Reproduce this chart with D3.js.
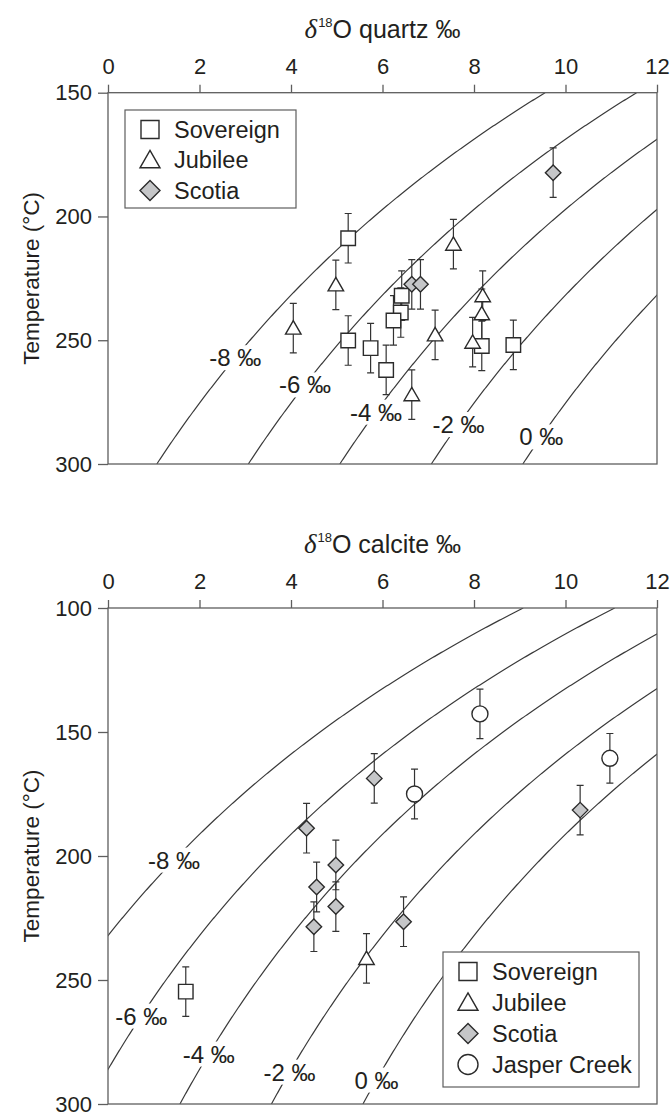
<!DOCTYPE html>
<html>
<head>
<meta charset="utf-8">
<script src="https://cdn.jsdelivr.net/npm/d3@7"></script>
<style>
  html, body { margin: 0; padding: 0; background: #fff; }
  svg { display: block; font-family: "Liberation Sans", Arial, Helvetica, sans-serif; }
</style>
</head>
<body>
<svg id="chart" width="670" height="1114"></svg>
<script>
// ---- axis ticks ----
const deltaTicks = [0, 2, 4, 6, 8, 10, 12];
const quartzTempTicks = [150, 200, 250, 300];
const calciteTempTicks = [100, 150, 200, 250, 300];

// ---- fluid δ18O isopleths (‰) and the temperature where each label sits ----
const fluidValues = [-8, -6, -4, -2, 0];
const quartzLabelTemps = [257, 268, 279, 284, 289];
const calciteLabelTemps = [201.6, 264.5, 279.8, 287.1, 290.3];

// mineral–water fractionation 1000 ln α = A·10^6 / T² + B  (T in kelvin)
const quartzFrac = { A: 3.34, B: -1.1 };
const calciteFrac = { A: 2.78, B: -2.89 };

// ---- measurements: [δ18O mineral ‰, temperature °C] ----
const sovereignQuartz = [[5.25, 208.8], [6.42, 232.0], [6.40, 238.8], [6.24, 242.0],
                         [5.25, 250.1], [5.74, 253.2], [6.08, 262.0], [8.17, 252.3], [8.86, 251.9]];
const jubileeQuartz = [[4.05, 245.1], [4.98, 227.6], [7.55, 211.2], [7.15, 247.8],
                       [6.64, 272.0], [8.19, 232.0], [8.17, 239.3], [7.97, 250.8]];
const scotiaQuartz = [[9.73, 182.3], [6.64, 227.4], [6.83, 227.4]];

const sovereignCalcite = [[1.70, 254.7]];
const jubileeCalcite = [[5.65, 241.3]];
const scotiaCalcite = [[5.82, 168.7], [4.34, 188.8], [10.32, 181.5], [4.98, 203.6],
                       [4.56, 212.5], [4.98, 220.4], [4.50, 228.5], [6.46, 226.5]];
const jasperCalcite = [[8.13, 142.7], [6.70, 175.0], [10.97, 160.6]];

// temperature uncertainty (± °C)
const tempError = 10;

// ---- styling ----
const INK = "#231f20";
const AXIS = "#5e5e5e";
const CURVE = "#3a3a3a";
const SCOTIA_FILL = "#c5c6c8";

const svg = d3.select("#chart");
const plotLeft = 108, plotRight = 657;
const x = d3.scaleLinear().domain([0, 12]).range([plotLeft, plotRight]);

// marker outlines centred on (0,0)
const shapes = {
  square: s => { const h = s / 2; return `M${-h},${-h}H${h}V${h}H${-h}Z`; },
  triangle: s => { const h = s * Math.sqrt(3) / 2; return `M0,${-h * 0.55}L${s / 2},${h * 0.45}L${-s / 2},${h * 0.45}Z`; },
  diamond: s => { const h = s / 2; return `M0,${-h}L${h},0L0,${h}L${-h},0Z`; },
  circle: s => { const r = s / 2; return `M${r},0A${r},${r} 0 1,1 ${-r},0A${r},${r} 0 1,1 ${r},0Z`; }
};
const markerSize = { square: 14.5, triangle: 15.5, diamond: 15.5, circle: 16 };
const legendSize = { square: 18, triangle: 20, diamond: 20, circle: 20 };

function drawPanel(cfg) {
  const g = svg.append("g");
  const y = d3.scaleLinear().domain(cfg.tempDomain).range([cfg.top, cfg.bottom]);
  const frac = T => cfg.frac.A * 1e6 / Math.pow(T + 273.15, 2) + cfg.frac.B;

  const clipId = cfg.id + "-clip";
  svg.append("clipPath").attr("id", clipId)
    .append("rect")
    .attr("x", plotLeft).attr("y", cfg.top)
    .attr("width", plotRight - plotLeft).attr("height", cfg.bottom - cfg.top);

  // isopleths
  const temps = d3.range(cfg.tempDomain[0], cfg.tempDomain[1] + 0.25, 0.5);
  const line = d3.line().x(d => x(d[0])).y(d => y(d[1]));
  const curves = g.append("g").attr("clip-path", `url(#${clipId})`);
  fluidValues.forEach(w => {
    curves.append("path")
      .attr("d", line(temps.map(T => [w + frac(T), T])))
      .attr("fill", "none").attr("stroke", CURVE).attr("stroke-width", 1.2);
  });

  // isopleth labels, knocked out of the curves
  const labels = g.append("g");
  fluidValues.forEach((w, i) => {
    const T = cfg.labelTemps[i];
    const lg = labels.append("g").attr("transform", `translate(${x(w + frac(T))},${y(T)})`);
    const bg = lg.append("rect").attr("fill", "#fff");
    const t = lg.append("text")
      .attr("text-anchor", "middle").attr("dy", "0.36em")
      .attr("font-size", 24).attr("fill", INK)
      .text(`${w} ‰`);
    const b = t.node().getBBox();
    bg.attr("x", b.x - 3).attr("y", b.y + 1).attr("width", b.width + 6).attr("height", b.height - 2);
  });

  // frame
  g.append("rect")
    .attr("x", plotLeft).attr("y", cfg.top)
    .attr("width", plotRight - plotLeft).attr("height", cfg.bottom - cfg.top)
    .attr("fill", "none").attr("stroke", AXIS).attr("stroke-width", 1.3);

  // top δ18O axis
  const xAxis = d3.axisTop(x).tickValues(deltaTicks).tickSize(8).tickPadding(11).tickFormat(d3.format("d"));
  const xa = g.append("g").attr("transform", `translate(0,${cfg.top})`).call(xAxis);
  // left temperature axis
  const yAxis = d3.axisLeft(y).tickValues(cfg.tempTicks).tickSize(10).tickPadding(6).tickFormat(d3.format("d"));
  const ya = g.append("g").attr("transform", `translate(${plotLeft},0)`).call(yAxis);
  [xa, ya].forEach(a => {
    a.attr("font-family", null).attr("font-size", null);
    a.select(".domain").remove();
    a.selectAll(".tick line").attr("stroke", AXIS).attr("stroke-width", 1.3);
    a.selectAll(".tick text").attr("fill", INK).style("font-size", "22px");
  });

  // axis titles
  const title = g.append("text")
    .attr("x", (plotLeft + plotRight) / 2).attr("y", cfg.top - 55)
    .attr("text-anchor", "middle").attr("fill", INK).attr("font-size", 25);
  title.append("tspan").attr("font-family", "'Liberation Serif', 'Times New Roman', serif")
    .attr("font-style", "italic").attr("font-size", 27).text("δ");
  title.append("tspan").attr("font-size", 13).attr("dy", -11).attr("dx", 1).text("18");
  title.append("tspan").attr("dy", 11).text(`O ${cfg.mineral} ‰`);

  g.append("text")
    .attr("transform", `translate(31,${(cfg.top + cfg.bottom) / 2}) rotate(-90)`)
    .attr("text-anchor", "middle").attr("dy", "0.36em")
    .attr("fill", INK).attr("font-size", 22.5)
    .text("Temperature (°C)");

  // data: error bars then markers
  const pts = g.append("g");
  cfg.series.forEach(s => {
    s.data.forEach(([d, T]) => {
      const px = x(d), y0 = y(T - tempError), y1 = y(T + tempError);
      pts.append("path")
        .attr("d", `M${px},${y0}V${y1}M${px - 3.5},${y0}H${px + 3.5}M${px - 3.5},${y1}H${px + 3.5}`)
        .attr("fill", "none").attr("stroke", "#333").attr("stroke-width", 1.2);
    });
    s.data.forEach(([d, T]) => {
      pts.append("path")
        .attr("transform", `translate(${x(d)},${y(T)})`)
        .attr("d", shapes[s.shape](markerSize[s.shape]))
        .attr("fill", s.fill).attr("stroke", "#2b2b2b").attr("stroke-width", 1.4);
    });
  });

  // legend
  const L = cfg.legend;
  const lg = g.append("g");
  lg.append("rect")
    .attr("x", L.x).attr("y", L.y).attr("width", L.w).attr("height", L.h)
    .attr("fill", "#fff").attr("stroke", AXIS).attr("stroke-width", 1.2);
  cfg.series.forEach((s, i) => {
    const cy = L.y + L.firstRow + i * L.rowGap;
    lg.append("path")
      .attr("transform", `translate(${L.x + L.symX},${cy})`)
      .attr("d", shapes[s.shape](legendSize[s.shape]))
      .attr("fill", s.fill).attr("stroke", "#2b2b2b").attr("stroke-width", 1.4);
    lg.append("text")
      .attr("x", L.x + L.symX + 24).attr("y", cy).attr("dy", "0.36em")
      .attr("fill", INK).attr("font-size", 23.5)
      .text(s.name);
  });
}

drawPanel({
  id: "quartz", mineral: "quartz",
  top: 92.7, bottom: 464, tempDomain: [150, 300], tempTicks: quartzTempTicks,
  frac: quartzFrac, labelTemps: quartzLabelTemps,
  series: [
    { name: "Sovereign", shape: "square", fill: "#fff", data: sovereignQuartz },
    { name: "Jubilee", shape: "triangle", fill: "#fff", data: jubileeQuartz },
    { name: "Scotia", shape: "diamond", fill: SCOTIA_FILL, data: scotiaQuartz }
  ],
  legend: { x: 125, y: 110, w: 171, h: 98, symX: 25, firstRow: 19.5, rowGap: 30.5 }
});

drawPanel({
  id: "calcite", mineral: "calcite",
  top: 608, bottom: 1104, tempDomain: [100, 300], tempTicks: calciteTempTicks,
  frac: calciteFrac, labelTemps: calciteLabelTemps,
  series: [
    { name: "Sovereign", shape: "square", fill: "#fff", data: sovereignCalcite },
    { name: "Jubilee", shape: "triangle", fill: "#fff", data: jubileeCalcite },
    { name: "Scotia", shape: "diamond", fill: SCOTIA_FILL, data: scotiaCalcite },
    { name: "Jasper Creek", shape: "circle", fill: "#fff", data: jasperCalcite }
  ],
  legend: { x: 443, y: 952, w: 196, h: 135, symX: 25, firstRow: 19.5, rowGap: 31 }
});
</script>
</body>
</html>
